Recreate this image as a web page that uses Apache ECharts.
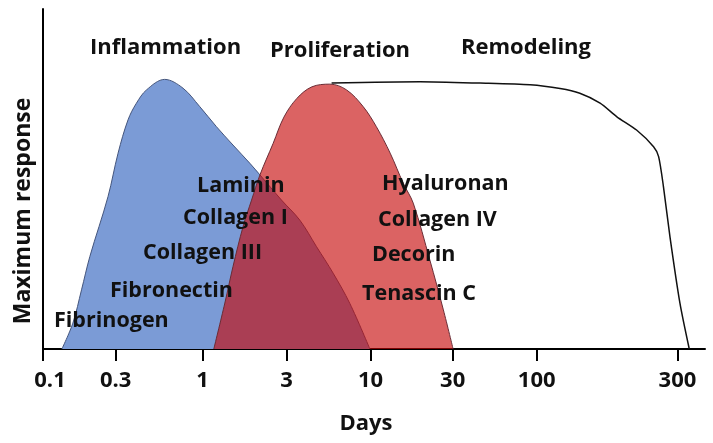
<!DOCTYPE html>
<html><head><meta charset="utf-8">
<script src="https://cdn.jsdelivr.net/npm/echarts@6/dist/echarts.min.js"></script>
<style>html,body{margin:0;padding:0;background:#fff}#c{width:713px;height:443px}</style>
</head><body><div id="c"></div>
<script>
// Axis ticks (days) as printed on the figure
const tickDays = [0.1, 0.3, 1, 3, 10, 30, 100, 300];
const tickLabels = ['0.1', '0.3', '1', '3', '10', '30', '100', '300'];
// The figure's hand-drawn, roughly logarithmic axis: where each tick sits (decades from 0.1)
const tickAxisPos = [0, 0.435, 0.954, 1.457, 1.960, 2.451, 2.954, 3.796];
const axisMaxDay = 372;

// Inflammation (blue)
const inflammationDays = [0.133, 0.157, 0.179, 0.203, 0.267, 0.310, 0.356, 0.400, 0.460, 0.592, 0.764, 0.963, 1.20, 1.49, 1.86, 2.12, 2.81, 3.63, 4.61, 5.85, 7.43, 9.9];
const inflammationResp = [0, 0.076, 0.174, 0.272, 0.448, 0.576, 0.674, 0.723, 0.762, 0.793, 0.767, 0.713, 0.654, 0.600, 0.546, 0.512, 0.438, 0.379, 0.301, 0.223, 0.134, 0];

// Proliferation (red)
const proliferationDays = [1.16, 1.34, 1.49, 1.70, 1.90, 2.12, 2.52, 2.90, 3.48, 4.31, 5.58, 7.09, 8.99, 10.8, 13.0, 15.5, 17.7, 22.1, 26.5, 30.2];
const proliferationResp = [0, 0.135, 0.242, 0.360, 0.438, 0.512, 0.605, 0.682, 0.737, 0.771, 0.779, 0.762, 0.713, 0.654, 0.576, 0.487, 0.429, 0.262, 0.115, 0];

// Remodeling (black line)
const remodelingDays = [5.72, 19.4, 44.4, 90.9, 120, 140, 164, 187, 218, 249, 259, 269, 283, 306, 329];
const remodelingResp = [0.782, 0.786, 0.782, 0.777, 0.766, 0.752, 0.723, 0.683, 0.644, 0.595, 0.566, 0.477, 0.330, 0.134, 0];

const phaseNames = ['Inflammation', 'Proliferation', 'Remodeling'];
const molecules = ['Laminin', 'Collagen I', 'Collagen III', 'Fibronectin', 'Fibrinogen', 'Hyaluronan', 'Collagen IV', 'Decorin', 'Tenascin C'];

const logTicks = tickDays.map(Math.log10);
function toAxis(d) {
  const L = Math.log10(d);
  let i = 0;
  while (i < logTicks.length - 2 && L > logTicks[i + 1]) i++;
  return tickAxisPos[i] + (L - logTicks[i]) / (logTicks[i + 1] - logTicks[i]) * (tickAxisPos[i + 1] - tickAxisPos[i]);
}
function pairs(days, resp) { return days.map((d, i) => [toAxis(d), resp[i]]); }
const tickVals = tickDays.map(toAxis);

const FONT = '"Open Sans"';
function txt(s, x, y, size) {
  return { type: 'text', x: x, y: y, z: 100, style: { text: s, fontFamily: FONT, fontWeight: 'bold', fontSize: size, fill: '#111', textAlign: 'left', textVerticalAlign: 'middle' } };
}
const phasePos = [[90, 48], [270, 51], [461, 48]];
const molPos = [[197, 186], [183, 218], [143, 253], [110, 291], [54, 321], [382, 184], [378, 220], [372, 255], [362, 294]];
const graphics = [];
phaseNames.forEach((s, i) => graphics.push(txt(s, phasePos[i][0], phasePos[i][1], 22)));
molecules.forEach((s, i) => graphics.push(txt(s, molPos[i][0], molPos[i][1], 21.5)));
graphics.push({ type: 'text', x: 23, y: 211, z: 100, rotation: Math.PI / 2, style: { text: 'Maximum response', fontFamily: FONT, fontWeight: 'bold', fontSize: 23, fill: '#111', textAlign: 'center', textVerticalAlign: 'middle' } });

const chart = echarts.init(document.getElementById('c'), null, { renderer: 'canvas' });
chart.setOption({
  animation: false,
  backgroundColor: '#fff',
  grid: { left: 43, right: 8, top: 9, bottom: 94 },
  xAxis: {
    type: 'value', min: 0, max: toAxis(axisMaxDay),
    name: 'Days', nameLocation: 'middle', nameGap: 64,
    nameTextStyle: { fontFamily: FONT, fontWeight: 'bold', fontSize: 22, color: '#111', padding: [0, 16, 0, 0] },
    axisLine: { show: true, lineStyle: { color: '#000', width: 2 } },
    axisTick: { show: true, customValues: tickVals, length: 12, lineStyle: { color: '#000', width: 2 } },
    axisLabel: {
      show: true, customValues: tickVals, margin: 21,
      fontFamily: FONT, fontWeight: 'bold', fontSize: 22, color: '#111',
      formatter: function (v) {
        let k = 0, best = 1e9;
        tickVals.forEach((t, i) => { if (Math.abs(t - v) < best) { best = Math.abs(t - v); k = i; } });
        return k === 0 ? '{first|' + tickLabels[k] + '}' : tickLabels[k];
      },
      rich: { first: { fontFamily: FONT, fontWeight: 'bold', fontSize: 22, color: '#111', padding: [0, 0, 0, 14] } }
    },
    splitLine: { show: false }
  },
  yAxis: {
    type: 'value', min: 0, max: 1,
    axisLine: { show: true, lineStyle: { color: '#000', width: 2 } },
    axisTick: { show: false }, axisLabel: { show: false }, splitLine: { show: false }
  },
  graphic: graphics,
  series: [
    { type: 'line', name: 'Inflammation', data: pairs(inflammationDays, inflammationResp), smooth: 0.35, showSymbol: false, symbol: 'none',
      lineStyle: { color: '#44557c', width: 1 }, areaStyle: { color: '#7b9bd6', opacity: 1 }, z: 2 },
    { type: 'line', name: 'Proliferation', data: pairs(proliferationDays, proliferationResp), smooth: 0.35, showSymbol: false, symbol: 'none',
      lineStyle: { color: '#6a2c35', width: 1 }, areaStyle: { color: 'rgba(198,8,8,0.63)', opacity: 1 }, z: 3 },
    { type: 'line', name: 'Remodeling', data: pairs(remodelingDays, remodelingResp), smooth: 0.25, showSymbol: false, symbol: 'none',
      lineStyle: { color: '#111', width: 1.5 }, z: 4 }
  ]
});
</script></body></html>
